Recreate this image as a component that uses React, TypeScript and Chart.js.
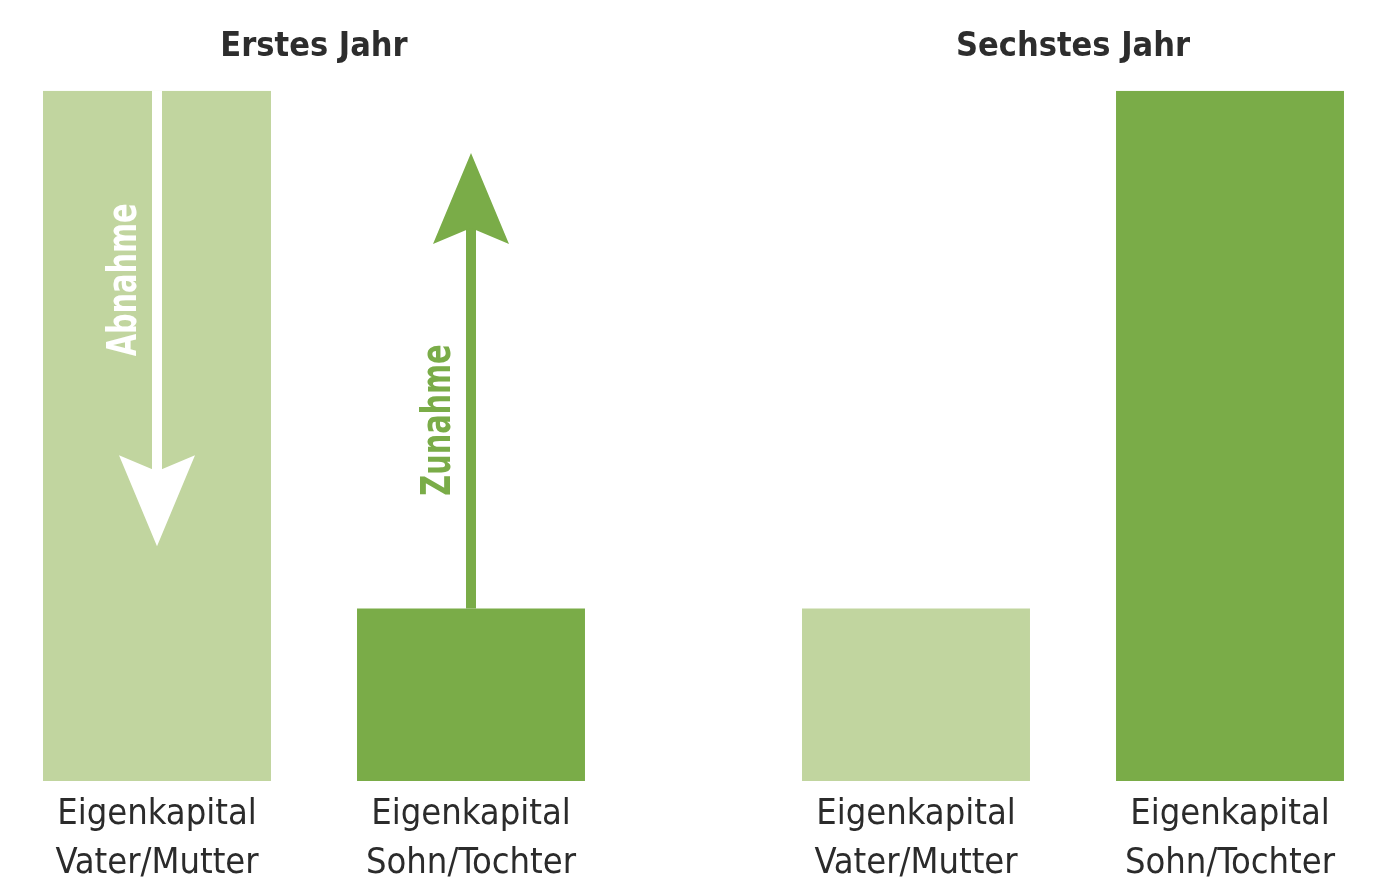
import React, { useEffect, useRef } from "react";
import { Chart, registerables } from "chart.js";

Chart.register(...registerables);

const FONT = "'Liberation Sans Narrow', 'DejaVu Sans Condensed', 'Roboto', sans-serif";

const categories: string[][] = [
  ["Eigenkapital", "Vater/Mutter"],
  ["Eigenkapital", "Sohn/Tochter"],
];
const titles = ["Erstes Jahr", "Sechstes Jahr"];
const year1Values = [100, 25];
const year6Values = [25, 100];
const barColors = ["#c1d59f", "#7aac48"];

// Arrow annotations on first year
const arrowBars = [0, 1];
const arrowTips = [34, 91];
const arrowLabelValues = [72.6, 52.3];
const arrowLabels = ["Abnahme", "Zunahme"];
const arrowColors = ["#ffffff", "#7aac48"];

const arrowPlugin = {
  id: "arrows",
  afterDatasetsDraw(chart: any, _args: any, opts: any) {
    if (!opts || !opts.enabled) return;
    const ctx = chart.ctx;
    const meta = chart.getDatasetMeta(0);
    const yScale = chart.scales.y;
    ctx.save();
    arrowBars.forEach((bi, i) => {
      const el = meta.data[bi];
      const x = el.x;
      const yStart = el.y;
      const yTip = yScale.getPixelForValue(arrowTips[i]);
      const dir = yTip > yStart ? 1 : -1;
      const headLen = 91;
      const headHalf = 38;
      const notch = 16;
      const shaftHalf = 5;
      const color = arrowColors[i];
      ctx.fillStyle = color;
      const yBase = yTip - dir * headLen;
      const yJoin = yBase + dir * notch;
      ctx.beginPath();
      ctx.moveTo(x - shaftHalf, yStart);
      ctx.lineTo(x + shaftHalf, yStart);
      ctx.lineTo(x + shaftHalf, yJoin + dir * 2);
      ctx.lineTo(x - shaftHalf, yJoin + dir * 2);
      ctx.closePath();
      ctx.fill();
      ctx.beginPath();
      ctx.moveTo(x, yTip);
      ctx.lineTo(x + headHalf, yBase);
      ctx.lineTo(x, yJoin);
      ctx.lineTo(x - headHalf, yBase);
      ctx.closePath();
      ctx.fill();
      const ly = yScale.getPixelForValue(arrowLabelValues[i]);
      ctx.save();
      ctx.translate(x - 31, ly);
      ctx.rotate(-Math.PI / 2);
      ctx.scale(0.8, 1);
      ctx.font = `bold 40px ${FONT}`;
      ctx.textAlign = "center";
      ctx.textBaseline = "middle";
      ctx.fillStyle = color;
      ctx.fillText(arrowLabels[i], 0, 0);
      ctx.restore();
    });
    ctx.restore();
  },
};

function YearChart({ title, values, arrows }: { title: string; values: number[]; arrows: boolean }) {
  const ref = useRef<HTMLCanvasElement>(null);
  useEffect(() => {
    if (!ref.current) return;
    const chart = new Chart(ref.current, {
      type: "bar",
      data: {
        labels: categories,
        datasets: [
          {
            data: values,
            backgroundColor: barColors,
            borderWidth: 0,
            barPercentage: 0.726,
            categoryPercentage: 1,
          },
        ],
      },
      options: {
        animation: false,
        responsive: false,
        devicePixelRatio: 1,
        layout: { padding: 0 },
        plugins: {
          legend: { display: false },
          tooltip: { enabled: false },
          title: {
            display: true,
            text: title,
            color: "#2d2d2d",
            font: { family: FONT, size: 34, weight: "bold", lineHeight: 1.2 },
            padding: { top: 27, bottom: 23 },
          },
          arrows: { enabled: arrows },
        } as any,
        scales: {
          x: {
            grid: { display: false, drawTicks: false },
            border: { display: false },
            ticks: {
              color: "#2b2b2b",
              padding: 9,
              font: { family: FONT, size: 36, lineHeight: 1.36 },
              maxRotation: 0,
              autoSkip: false,
            },
            afterFit: (scale: any) => {
              scale.height = 114;
            },
          },
          y: {
            display: false,
            min: 0,
            max: 100,
          },
        },
      },
      plugins: [arrowPlugin],
    });
    return () => chart.destroy();
  }, []);
  return <canvas ref={ref} width={628} height={895} />;
}

export default function App() {
  return (
    <div style={{ position: "absolute", left: 0, top: 0, width: 1400, height: 895, background: "#ffffff" }}>
      <div style={{ position: "absolute", left: 0, top: 0 }}>
        <YearChart title={titles[0]} values={year1Values} arrows={true} />
      </div>
      <div style={{ position: "absolute", left: 759, top: 0 }}>
        <YearChart title={titles[1]} values={year6Values} arrows={false} />
      </div>
    </div>
  );
}
